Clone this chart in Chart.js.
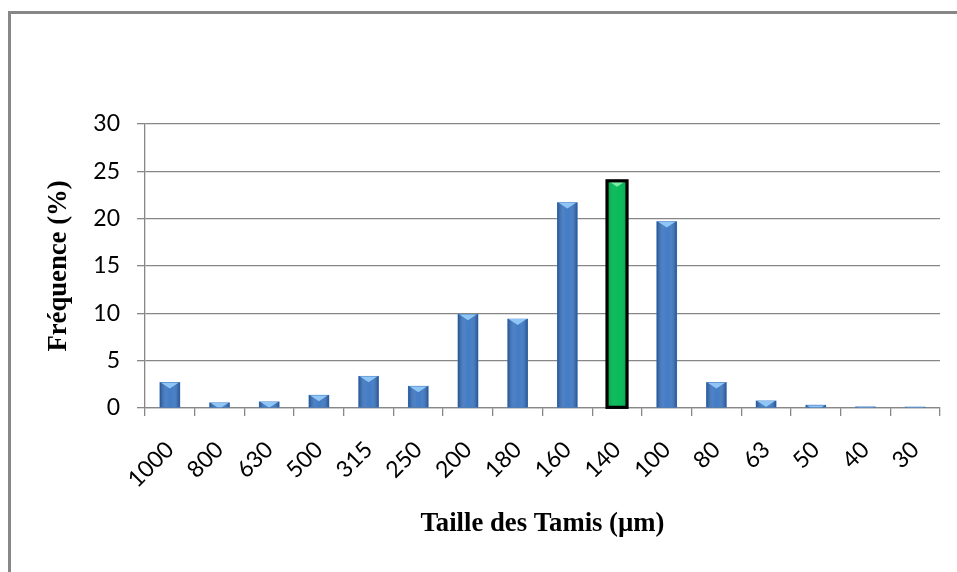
<!DOCTYPE html>
<html>
<head>
<meta charset="utf-8">
<title>Taille des Tamis</title>
<script src="https://cdn.jsdelivr.net/npm/chart.js@4.4.1/dist/chart.umd.min.js"></script>
<style>
  html, body { margin: 0; padding: 0; background: #fff; overflow: hidden; }
  #frame {
    position: absolute; left: 8px; top: 11px; width: 1000px; height: 620px;
    border-left: 3px solid #878787; border-top: 3px solid #878787;
  }
  #wrap { position: absolute; left: 0; top: 0; width: 957px; height: 572px; }
</style>
</head>
<body>
<div id="frame"></div>
<div id="wrap"><canvas id="myChart-tamis"></canvas></div>
<script>
// sieve sizes (µm) and frequency (%)
const tamisLabels = ['1000', '800', '630', '500', '315', '250', '200', '180', '160', '140', '100', '80', '63', '50', '40', '30'];
const frequenceData = [2.7, 0.55, 0.65, 1.35, 3.35, 2.3, 9.9, 9.4, 21.7, 24.0, 19.7, 2.7, 0.75, 0.3, 0.12, 0.1];
const yTicks = [0, 5, 10, 15, 20, 25, 30];
const highlightLabel = '140';

const blue = '#3c77c3';
const green = '#00b854';
const gridGray = '#878787';
const highlightIndex = tamisLabels.indexOf(highlightLabel);

const barColors = tamisLabels.map((l, i) => i === highlightIndex ? green : blue);

const tickFont = { family: 'Lato, sans-serif', size: 23 };
const titleFont = { family: "'Liberation Serif', 'Times New Roman', serif", size: 26.7, weight: 'bold' };

// cylinder look + light bevel on the top of each bar
const barShading = {
  id: 'barShading',
  afterDatasetsDraw(chart) {
    const ctx = chart.ctx;
    chart.getDatasetMeta(0).data.forEach((bar, i) => {
      const isGreen = i === highlightIndex;
      const left = bar.x - bar.width / 2;
      const right = bar.x + bar.width / 2;
      const top = Math.min(bar.y, bar.base);
      const h = Math.abs(bar.base - bar.y);
      if (h <= 0) return;

      const edge = isGreen ? 'rgba(0,60,20,0.18)' : 'rgba(0,20,60,0.38)';
      ctx.save();
      ctx.beginPath();
      ctx.rect(left, top, bar.width, h);
      ctx.clip();
      const g = ctx.createLinearGradient(left, 0, right, 0);
      g.addColorStop(0, edge);
      g.addColorStop(0.4, 'rgba(255,255,255,0.06)');
      g.addColorStop(0.6, 'rgba(255,255,255,0.04)');
      g.addColorStop(1, edge);
      ctx.fillStyle = g;
      ctx.fillRect(left, top, bar.width, h);
      ctx.fillStyle = isGreen ? '#7becaa' : '#8fc6f6';
      ctx.beginPath();
      ctx.moveTo(left + 1, top);
      ctx.lineTo(right - 1, top);
      ctx.lineTo(bar.x, top + 6);
      ctx.closePath();
      ctx.fill();
      ctx.restore();

      if (isGreen) {
        ctx.save();
        ctx.strokeStyle = '#000';
        ctx.lineWidth = 3.2;
        ctx.strokeRect(left, top, bar.width, h);
        ctx.restore();
      }
    });
  }
};

const tamisCtx = document.getElementById('myChart-tamis').getContext('2d');
const tamisChart = new Chart(tamisCtx, {
  type: 'bar',
  data: {
    labels: tamisLabels,
    datasets: [{
      data: frequenceData,
      backgroundColor: barColors,
      borderWidth: 0,
      barThickness: 20
    }]
  },
  options: {
    responsive: true,
    maintainAspectRatio: false,
    animation: false,
    layout: { padding: { top: 124, right: 17, left: 0, bottom: 0 } },
    plugins: {
      legend: { display: false },
      tooltip: { enabled: false }
    },
    scales: {
      x: {
        grid: { drawOnChartArea: false, tickLength: 8, color: gridGray, lineWidth: 1.3 },
        border: { color: gridGray, width: 1.3 },
        ticks: { font: tickFont, color: '#000', minRotation: 45, maxRotation: 45, padding: 20, autoSkip: false },
        title: {
          display: true,
          text: 'Taille des Tamis (µm)',
          font: titleFont,
          color: '#000',
          padding: { top: 0, bottom: 32 }
        },
        afterFit(scale) { scale.height = 164; }
      },
      y: {
        min: yTicks[0],
        max: yTicks[yTicks.length - 1],
        afterBuildTicks(scale) { scale.ticks = yTicks.map(v => ({ value: v })); },
        grid: { color: gridGray, lineWidth: 1.3, tickLength: 8 },
        border: { color: gridGray, width: 1.3 },
        ticks: { font: tickFont, color: '#000', padding: 17 },
        title: {
          display: true,
          text: 'Fréquence (%)',
          font: titleFont,
          color: '#000',
          padding: { top: 43, bottom: 0 }
        },
        afterFit(scale) { scale.width = 145; }
      }
    }
  },
  plugins: [barShading]
});
</script>
</body>
</html>
